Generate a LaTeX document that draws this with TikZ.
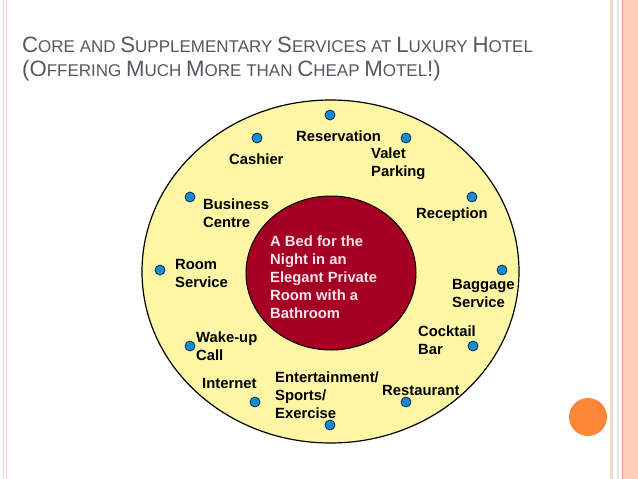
\documentclass[tikz,border=0pt]{standalone}
\usepackage{fontspec}
\setmainfont{Liberation Sans}
\usetikzlibrary{shapes.geometric}
\definecolor{titlegray}{RGB}{85,88,96}
\definecolor{outerfill}{RGB}{252,246,165}
\definecolor{innerfill}{RGB}{165,0,35}
\definecolor{innertext}{RGB}{255,228,235}
\definecolor{dotfill}{RGB}{20,140,210}
\definecolor{dotline}{RGB}{20,40,80}
\definecolor{stripelight}{RGB}{247,212,198}
\definecolor{stripedark}{RGB}{238,160,130}
\definecolor{stripefill}{RGB}{255,204,184}
\definecolor{ballorange}{RGB}{253,134,55}
\newcommand\bigc[1]{{\fontsize{22.2}{24}\selectfont #1}}
\newcommand\smc[1]{{\fontsize{17}{24}\selectfont #1}}
\begin{document}
\begin{tikzpicture}[x=1pt,y=-1pt,
  lbl/.style={anchor=north west,inner sep=0pt,align=left,font=\bfseries\fontsize{14.8}{18}\selectfont,text=black},
  dot/.style={circle,fill=dotfill,draw=dotline,line width=0.8pt,minimum size=10pt,inner sep=0pt},
  titletext/.style={anchor=base west,inner sep=0pt,text=titlegray}]
\useasboundingbox (0,0) rectangle (638,479);
\fill[white] (0,0) rectangle (638,479);
% borders
\draw[stripelight,line width=1.2pt] (3.8,0) -- (3.8,479);
\draw[stripelight,line width=1.2pt] (6.2,0) -- (6.2,479);
\fill[stripelight] (610,0) rectangle (613,479);
\fill[stripelight!70!white] (617,0) rectangle (619,479);
\fill[stripefill] (622,0) rectangle (638,479);
\draw[stripedark,line width=1pt] (622.5,0) -- (622.5,479);
% title
\node[titletext] (t1) at (22,52.3) {\bigc{C}\smc{ORE AND }\bigc{S}\smc{UPPLEMENTARY }\bigc{S}\smc{ERVICES AT }\bigc{L}\smc{UXURY }\bigc{H}\smc{OTEL}};
\node[titletext] (t2) at (22,76.7) {\bigc{(O}\smc{FFERING }\bigc{M}\smc{UCH }\bigc{M}\smc{ORE THAN }\bigc{C}\smc{HEAP }\bigc{M}\smc{OTEL}\bigc{!)}};
% ellipses
\node[ellipse,draw=black,line width=1.2pt,fill=outerfill,minimum width=377pt,minimum height=343pt,inner sep=0pt] (outer) at (330.5,271.5) {};
\node[ellipse,draw=black,line width=1pt,fill=innerfill,minimum width=170pt,minimum height=154pt,inner sep=0pt] (inner) at (331,273) {};
\node[lbl,text=innertext] (core) at (270,235.7) {A Bed for the\\Night in an\\Elegant Private\\Room with a\\Bathroom};
% dots
\node[dot] (d1) at (330,115) {};
\node[dot] (d2) at (257,138) {};
\node[dot] (d3) at (406,138) {};
\node[dot] (d4) at (190,197) {};
\node[dot] (d5) at (472,197) {};
\node[dot] (d6) at (160,270) {};
\node[dot] (d7) at (502,270) {};
\node[dot] (d8) at (190,346) {};
\node[dot] (d9) at (473,346) {};
\node[dot] (d10) at (255,402) {};
\node[dot] (d11) at (406,402) {};
\node[dot] (d12) at (330,425) {};
% labels
\node[lbl] (l1) at (296,130.7) {Reservation};
\node[lbl] (l2) at (229,153.7) {Cashier};
\node[lbl] (l3) at (371,147.7) {Valet\\Parking};
\node[lbl] (l4) at (203,198.7) {Business\\Centre};
\node[lbl] (l5) at (416,207.7) {Reception};
\node[lbl] (l6) at (175,258.7) {Room\\Service};
\node[lbl] (l7) at (452,278.7) {Baggage\\Service};
\node[lbl] (l8) at (196,331.7) {Wake-up\\Call};
\node[lbl] (l9) at (418,325.7) {Cocktail\\Bar};
\node[lbl] (l10) at (202,377.7) {Internet};
\node[lbl] (l11) at (275,371.7) {Entertainment/\\Sports/\\Exercise};
\node[lbl] (l12) at (382,384.7) {Restaurant};
% orange ball
\node[circle,fill=ballorange,minimum size=38pt,inner sep=0pt] (ball) at (588,417) {};
\end{tikzpicture}
\end{document}
